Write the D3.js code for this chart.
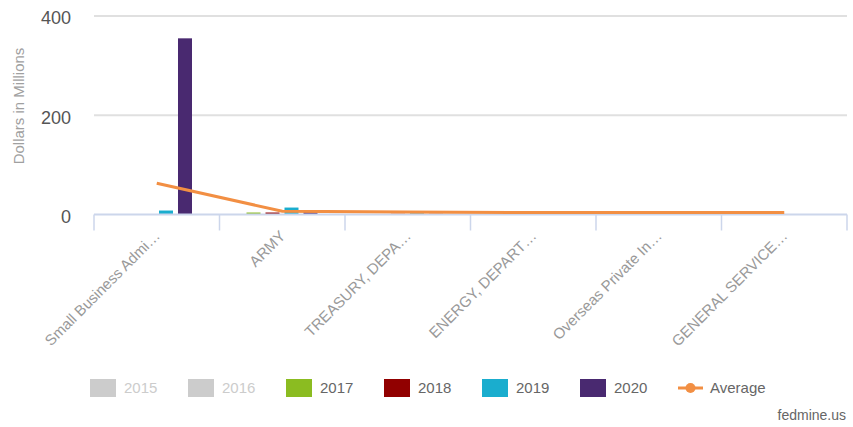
<!DOCTYPE html>
<html>
<head>
<meta charset="utf-8">
<script src="https://cdn.jsdelivr.net/npm/d3@7"></script>
<style>
  body { margin: 0; background: #fff; }
  svg { font-family: "Liberation Sans", Arial, sans-serif; }
</style>
</head>
<body>
<div id="chart"></div>
<script>
// Data
const categories = ["Small Business Admi…", "ARMY", "TREASURY, DEPA…", "ENERGY, DEPART…", "Overseas Private In…", "GENERAL SERVICE…"];
const years = ["2015", "2016", "2017", "2018", "2019", "2020"];
const hiddenYears = ["2015", "2016"];   // greyed out in the legend
const v2015 = [0, 0, 0, 0, 0, 0];
const v2016 = [0, 0, 0, 0, 0, 0];
const v2017 = [0, 4, 1, 0.5, 0.3, 0.3];
const v2018 = [0, 4, 1.5, 0.5, 0.3, 0.3];
const v2019 = [8, 14, 2.5, 1, 0.5, 0.5];
const v2020 = [355, 6, 1.5, 1, 1, 0.5];
const average = [63, 6.5, 5, 4, 4, 4];
const yTicks = [0, 200, 400];

const seriesValues = { "2015": v2015, "2016": v2016, "2017": v2017, "2018": v2018, "2019": v2019, "2020": v2020 };
const colors = { "2015": "#cccccc", "2016": "#cccccc", "2017": "#8bbc21", "2018": "#910000", "2019": "#1aadce", "2020": "#492970" };
const avgColor = "#f28f43";

const width = 853, height = 427;
const plotLeft = 94, plotRight = 847, plotTop = 16, plotBottom = 214.5;

const svg = d3.select("#chart").append("svg")
    .attr("width", width)
    .attr("height", height);

const x = d3.scaleBand().domain(categories).range([plotLeft, plotRight]);
const visibleYears = years.filter(yr => !hiddenYears.includes(yr));
const x1 = d3.scaleBand().domain(visibleYears).range([27, 98]).paddingInner(0.263);
const y = d3.scaleLinear().domain([0, 400]).range([plotBottom, plotTop]);

// gridlines
svg.append("g")
    .selectAll("line")
    .data(yTicks.filter(t => t > 0))
    .enter().append("line")
    .attr("x1", plotLeft).attr("x2", plotRight)
    .attr("y1", d => y(d)).attr("y2", d => y(d))
    .style("stroke", "#e0e0e0")
    .style("stroke-width", 2);

// y tick labels
svg.append("g")
    .selectAll("text")
    .data(yTicks)
    .enter().append("text")
    .attr("x", 71)
    .attr("y", d => y(d) + 2)
    .attr("dy", "0.35em")
    .attr("text-anchor", "end")
    .style("font-size", "18px")
    .style("fill", "#555")
    .text(d => d);

// y axis title
svg.append("text")
    .attr("transform", "translate(24,106) rotate(-90)")
    .attr("text-anchor", "middle")
    .style("font-size", "15px")
    .style("fill", "#a0a0a0")
    .text("Dollars in Millions");

// bars
const groups = svg.append("g")
    .selectAll("g")
    .data(categories)
    .enter().append("g")
    .attr("transform", d => `translate(${x(d)},0)`);

groups.selectAll("rect")
    .data((d, i) => visibleYears.map(yr => ({ year: yr, value: seriesValues[yr][i] })))
    .enter().append("rect")
    .attr("x", d => x1(d.year))
    .attr("width", x1.bandwidth())
    .attr("y", d => y(d.value))
    .attr("height", d => plotBottom - y(d.value))
    .style("fill", d => colors[d.year]);

// x axis line and ticks
const axisColor = "#ccd6eb";
svg.append("line")
    .attr("x1", plotLeft).attr("x2", plotRight)
    .attr("y1", plotBottom).attr("y2", plotBottom)
    .style("stroke", axisColor)
    .style("stroke-width", 2);

const boundaries = categories.map(c => x(c)).concat([plotRight]);
svg.append("g")
    .selectAll("line")
    .data(boundaries)
    .enter().append("line")
    .attr("x1", d => d).attr("x2", d => d)
    .attr("y1", plotBottom).attr("y2", plotBottom + 16)
    .style("stroke", axisColor)
    .style("stroke-width", 1.5);

// x labels
svg.append("g")
    .selectAll("text")
    .data(categories)
    .enter().append("text")
    .attr("transform", d => `translate(${x(d) + x.bandwidth() / 2 + 4},237) rotate(-45)`)
    .attr("text-anchor", "end")
    .style("font-size", "15px")
    .style("fill", "#999")
    .text(d => d);

// average line
const line = d3.line()
    .x((d, i) => x(categories[i]) + x.bandwidth() / 2)
    .y(d => y(d));

svg.append("path")
    .datum(average)
    .attr("d", line)
    .style("fill", "none")
    .style("stroke", avgColor)
    .style("stroke-width", 3);

// legend
const legendItems = years.concat(["Average"]);
const legendX = d3.scalePoint().domain(legendItems).range([90, 678]);
const legend = svg.append("g")
    .selectAll("g")
    .data(legendItems)
    .enter().append("g")
    .attr("transform", d => `translate(${legendX(d)},388)`);

legend.each(function(d) {
    const g = d3.select(this);
    if (d === "Average") {
        g.append("line")
            .attr("x1", 0).attr("x2", 25)
            .attr("y1", 0).attr("y2", 0)
            .style("stroke", avgColor)
            .style("stroke-width", 3);
        g.append("circle")
            .attr("cx", 12.5).attr("cy", 0).attr("r", 5)
            .style("fill", avgColor);
        g.append("text")
            .attr("x", 32).attr("dy", "0.35em")
            .style("font-size", "15px")
            .style("fill", "#666")
            .text(d);
    } else {
        const hidden = hiddenYears.includes(d);
        g.append("rect")
            .attr("x", 0).attr("y", -9)
            .attr("width", 26).attr("height", 18)
            .style("fill", hidden ? "#cccccc" : colors[d]);
        g.append("text")
            .attr("x", 34).attr("dy", "0.35em")
            .style("font-size", "15px")
            .style("fill", hidden ? "#cccccc" : "#666")
            .text(d);
    }
});

// credit
svg.append("text")
    .attr("x", 846).attr("y", 415)
    .attr("dy", "0.35em")
    .attr("text-anchor", "end")
    .style("font-size", "14px")
    .style("fill", "#666")
    .text("fedmine.us");
</script>
</body>
</html>
